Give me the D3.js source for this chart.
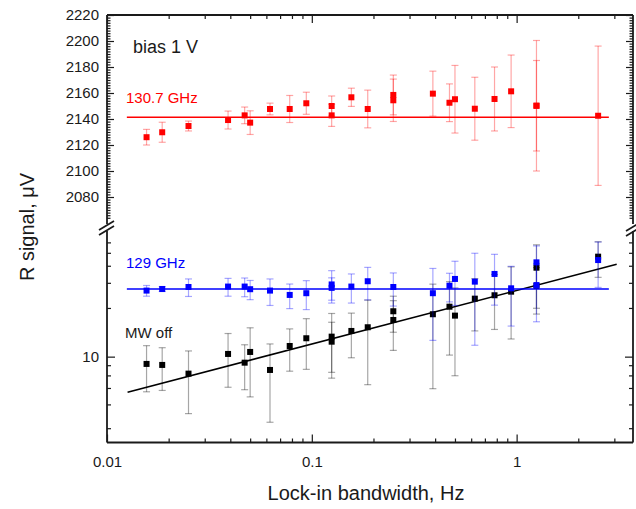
<!DOCTYPE html>
<html>
<head>
<meta charset="utf-8">
<script src="https://cdn.jsdelivr.net/npm/d3@7"></script>
<style>
  body { margin: 0; background: #fff; }
  svg { display: block; font-family: "Liberation Sans", Arial, sans-serif; }
</style>
</head>
<body>
<div id="chart"></div>
<script>
// bandwidths (Hz) and R signal values
const redBw = [0.0156, 0.0186, 0.025, 0.039, 0.047, 0.05, 0.0625, 0.078, 0.094, 0.125, 0.125, 0.156,
               0.1875, 0.25, 0.25, 0.39, 0.47, 0.5, 0.625, 0.78, 0.94, 1.25, 1.25, 2.5];
const redY = [2126, 2129.8, 2134.6, 2139.2, 2142.8, 2137.2, 2147.7, 2147.7, 2152.1, 2150, 2142.8, 2156.7,
              2147.7, 2158.5, 2154.4, 2159.5, 2152.5, 2155.2, 2147.9, 2155.4, 2161.3, 2150.2, 2150.2, 2142.5];
const redErr = [6, 7.7, 3.8, 6.9, 6.4, 9.1, 4.5, 10.4, 8.5, 7.7, 8.5, 7,
                14.5, 15.3, 16.3, 17.3, 14.5, 26, 24.2, 24.6, 27.9, 50.2, 34.8, 53.6];

const blueBw = [0.0156, 0.0186, 0.025, 0.039, 0.047, 0.05, 0.0625, 0.078, 0.094, 0.125, 0.125, 0.156,
                0.1875, 0.25, 0.39, 0.47, 0.5, 0.625, 0.78, 0.94, 1.25, 1.25, 2.5];
const blueY = [26.4, 27.1, 28.0, 28.2, 28.2, 27.0, 26.4, 24.6, 25.3, 29.2, 27.6, 28.2,
               30.8, 28.0, 25.3, 28.6, 32.0, 30.6, 34.8, 27.4, 42.4, 28.9, 44.1];
const blueErr = [2.3, 1.1, 4.0, 4.1, 4.3, 4.2, 5.6, 4.8, 5.8, 7.6, 5.0, 6.6,
                 8.1, 7.4, 12.9, 6.6, 11.2, 19, 13.9, 12.2, 14, 12.7, 16.3];

const blackBw = [0.0156, 0.0186, 0.025, 0.039, 0.047, 0.05, 0.0625, 0.078, 0.094, 0.125, 0.125, 0.156,
                 0.1875, 0.25, 0.25, 0.39, 0.47, 0.5, 0.625, 0.78, 0.94, 1.25, 1.25, 2.5];
const blackY = [9.14, 9.03, 8.16, 10.35, 9.28, 10.62, 8.51, 11.49, 12.77, 13.06, 12.18, 14.16,
                14.94, 19.0, 16.64, 18.15, 20.4, 17.77, 23.17, 24.47, 25.94, 38.7, 28.5, 46.76];
const blackErr = [2.4, 2.2, 2.6, 3.3, 2.4, 4.2, 3.3, 3.1, 4.2, 5.3, 3.9, 4.3,
                  7.7, 5.1, 5.8, 11.2, 10.2, 9.8, 9, 10, 13.3, 18.8, 10.3, 13.9];

// fitted lines (end points)
const redFitBw = [0.0125, 2.82], redFitY = [2141.3, 2141.3];
const blueFitBw = [0.0125, 2.82], blueFitY = [27.1, 27.1];
const blackFitBw = [0.0126, 3.08], blackFitY = [6.71, 41.0];

// ticks
const upperMajor = [2080, 2100, 2120, 2140, 2160, 2180, 2200, 2220];
const upperMinor = d3.range(2064, 2220, 2).filter(d => d % 20 !== 0);
const lowerMajor = [10];
const lowerMinor = [5, 6, 7, 8, 9, 20, 30, 40, 50, 60];
const xMajor = [0.01, 0.1, 1];

let width = 636, height = 509,
    pLeft = 107, pRight = 633, pTop = 15, pBottom = 442.5,
    gapTop = 224, gapBottom = 231;

const svg = d3.select("#chart")
  .append("svg")
  .attr("width", width)
  .attr("height", height);

let x = d3.scaleLog().domain([0.01, 3.7]).range([pLeft, pRight]);
let yUp = d3.scaleLinear().domain([2062, 2220]).range([220.4, pTop]);

// lower part: log scale of (R - offset)
const offset = 3.2;
let yShift = d3.scaleLog().domain([1.38, 74.2]).range([pBottom, 228]);
let yLow = v => yShift(v - offset);

const ink = "#1a1a1a";

function styleAxis(g) {
  g.select(".domain").remove();
  g.selectAll("line").attr("stroke", ink).attr("stroke-width", 1.2);
  g.selectAll("text").attr("fill", ink).attr("font-size", 15);
}

// x axes
let xMinor = x.ticks().filter(d => !xMajor.some(m => Math.abs(m - d) < 1e-9));
svg.append("g").attr("transform", `translate(0,${pBottom})`)
  .call(d3.axisBottom(x).tickValues(xMajor).tickSize(-8).tickPadding(14).tickFormat(d => d))
  .call(styleAxis);
svg.append("g").attr("transform", `translate(0,${pBottom})`)
  .call(d3.axisBottom(x).tickValues(xMinor).tickSize(-4).tickFormat(""))
  .call(styleAxis);
svg.append("g").attr("transform", `translate(0,${pTop})`)
  .call(d3.axisTop(x).tickValues(xMajor).tickSize(-8).tickFormat(""))
  .call(styleAxis);
svg.append("g").attr("transform", `translate(0,${pTop})`)
  .call(d3.axisTop(x).tickValues(xMinor).tickSize(-4).tickFormat(""))
  .call(styleAxis);

// upper y axes (linear)
svg.append("g").attr("transform", `translate(${pLeft},0)`)
  .call(d3.axisLeft(yUp).tickValues(upperMajor).tickSize(-7).tickPadding(8).tickFormat(d3.format("d")))
  .call(styleAxis);
svg.append("g").attr("transform", `translate(${pLeft},0)`)
  .call(d3.axisLeft(yUp).tickValues(upperMinor).tickSize(-3.5).tickFormat(""))
  .call(styleAxis);
svg.append("g").attr("transform", `translate(${pRight},0)`)
  .call(d3.axisRight(yUp).tickValues(upperMajor).tickSize(-7).tickFormat(""))
  .call(styleAxis);
svg.append("g").attr("transform", `translate(${pRight},0)`)
  .call(d3.axisRight(yUp).tickValues(upperMinor).tickSize(-3.5).tickFormat(""))
  .call(styleAxis);

// lower y axes (log)
svg.append("g").attr("transform", `translate(${pLeft},0)`)
  .call(d3.axisLeft(yShift).tickValues(lowerMajor.map(d => d - offset)).tickSize(-8).tickPadding(8)
    .tickFormat(d => Math.round(d + offset)))
  .call(styleAxis);
svg.append("g").attr("transform", `translate(${pLeft},0)`)
  .call(d3.axisLeft(yShift).tickValues(lowerMinor.map(d => d - offset)).tickSize(-4).tickFormat(""))
  .call(styleAxis);
svg.append("g").attr("transform", `translate(${pRight},0)`)
  .call(d3.axisRight(yShift).tickValues(lowerMajor.map(d => d - offset)).tickSize(-8).tickFormat(""))
  .call(styleAxis);
svg.append("g").attr("transform", `translate(${pRight},0)`)
  .call(d3.axisRight(yShift).tickValues(lowerMinor.map(d => d - offset)).tickSize(-4).tickFormat(""))
  .call(styleAxis);

// frame with breaks
let frame = [
  [[pLeft, pTop], [pRight, pTop]],
  [[pLeft, pBottom], [pRight, pBottom]],
  [[pLeft, pTop], [pLeft, gapTop]],
  [[pLeft, gapBottom], [pLeft, pBottom]],
  [[pRight, pTop], [pRight, gapTop]],
  [[pRight, gapBottom], [pRight, pBottom]],
  [[99, 230], [114, 221]],
  [[99, 235], [114, 226]],
  [[626, 231], [641, 222]],
  [[626, 236], [641, 227]]
];
svg.append("g").selectAll("line").data(frame).join("line")
  .attr("x1", d => d[0][0]).attr("y1", d => d[0][1])
  .attr("x2", d => d[1][0]).attr("y2", d => d[1][1])
  .attr("stroke", ink).attr("stroke-width", 1.8);

function series(bw, ys, errs, fitBw, fitY, yScale, color) {
  let g = svg.append("g");
  let pts = bw.map((b, i) => ({ b: b, v: ys[i], e: errs[i] }));

  g.append("path")
    .datum(fitBw.map((b, i) => [b, fitY[i]]))
    .attr("fill", "none")
    .attr("stroke", color)
    .attr("stroke-width", 1.6)
    .attr("d", d3.line().x(d => x(d[0])).y(d => yScale(d[1])));

  let eb = g.append("g").attr("stroke", color).attr("stroke-opacity", 0.35).attr("stroke-width", 1.2);
  eb.selectAll(".bar").data(pts).join("line")
    .attr("x1", d => x(d.b)).attr("x2", d => x(d.b))
    .attr("y1", d => yScale(d.v - d.e)).attr("y2", d => yScale(d.v + d.e));
  eb.selectAll(".capHi").data(pts).join("line")
    .attr("x1", d => x(d.b) - 3.5).attr("x2", d => x(d.b) + 3.5)
    .attr("y1", d => yScale(d.v + d.e)).attr("y2", d => yScale(d.v + d.e));
  eb.selectAll(".capLo").data(pts).join("line")
    .attr("x1", d => x(d.b) - 3.5).attr("x2", d => x(d.b) + 3.5)
    .attr("y1", d => yScale(d.v - d.e)).attr("y2", d => yScale(d.v - d.e));

  g.append("g").selectAll("rect").data(pts).join("rect")
    .attr("x", d => x(d.b) - 3)
    .attr("y", d => yScale(d.v) - 3)
    .attr("width", 6)
    .attr("height", 6)
    .attr("fill", color);
}

series(blackBw, blackY, blackErr, blackFitBw, blackFitY, yLow, "#000000");
series(blueBw, blueY, blueErr, blueFitBw, blueFitY, yLow, "#0000ff");
series(redBw, redY, redErr, redFitBw, redFitY, yUp, "#ff0000");

// labels
svg.append("text").text("bias 1 V").attr("x", 133).attr("y", 53)
  .attr("font-size", 18).attr("fill", ink);
svg.append("text").text("130.7 GHz").attr("x", 126).attr("y", 103)
  .attr("font-size", 15).attr("fill", "#ff0000");
svg.append("text").text("129 GHz").attr("x", 126).attr("y", 268)
  .attr("font-size", 15).attr("fill", "#0000ff");
svg.append("text").text("MW off").attr("x", 125).attr("y", 338)
  .attr("font-size", 15).attr("fill", ink);

svg.append("text").text("Lock-in bandwidth, Hz")
  .attr("x", 366).attr("y", 500)
  .attr("text-anchor", "middle").attr("font-size", 20).attr("fill", ink);
svg.append("text").text("R signal, μV")
  .attr("transform", "translate(34,227) rotate(-90)")
  .attr("text-anchor", "middle").attr("font-size", 20).attr("fill", ink);
</script>
</body>
</html>
